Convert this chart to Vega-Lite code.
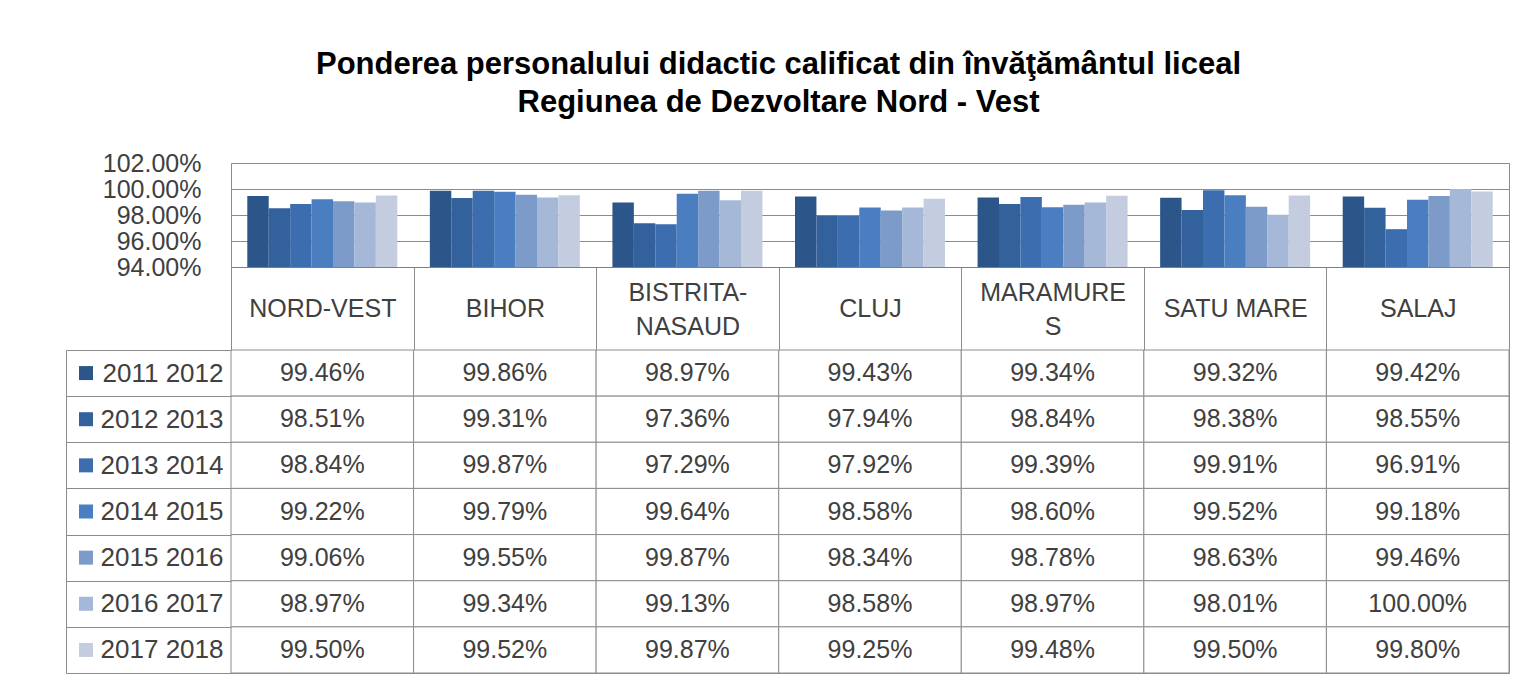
{
  "$schema": "https://vega.github.io/schema/vega-lite/v6.json",
  "padding": {"left": 65, "top": 48, "right": 16, "bottom": 10},
  "background": "white",
  "config": {"font": "Liberation Sans", "view": {"stroke": "#8c8c8c"}},
  "title": {
    "text": ["Ponderea personalului didactic calificat din învăţământul liceal", "Regiunea de Dezvoltare Nord - Vest"],
    "fontSize": 31, "fontWeight": "bold", "color": "#000000", "lineHeight": 38, "anchor": "middle", "offset": 32, "dx": -9
  },
  "datasets": {
    "d": [
      {"region": "NORD-VEST", "year": "2011 2012", "value": 0.9946},
      {"region": "NORD-VEST", "year": "2012 2013", "value": 0.9851},
      {"region": "NORD-VEST", "year": "2013 2014", "value": 0.9884},
      {"region": "NORD-VEST", "year": "2014 2015", "value": 0.9922},
      {"region": "NORD-VEST", "year": "2015 2016", "value": 0.9906},
      {"region": "NORD-VEST", "year": "2016 2017", "value": 0.9897},
      {"region": "NORD-VEST", "year": "2017 2018", "value": 0.995},
      {"region": "BIHOR", "year": "2011 2012", "value": 0.9986},
      {"region": "BIHOR", "year": "2012 2013", "value": 0.9931},
      {"region": "BIHOR", "year": "2013 2014", "value": 0.9987},
      {"region": "BIHOR", "year": "2014 2015", "value": 0.9979},
      {"region": "BIHOR", "year": "2015 2016", "value": 0.9955},
      {"region": "BIHOR", "year": "2016 2017", "value": 0.9934},
      {"region": "BIHOR", "year": "2017 2018", "value": 0.9952},
      {"region": "BISTRITA-NASAUD", "year": "2011 2012", "value": 0.9897},
      {"region": "BISTRITA-NASAUD", "year": "2012 2013", "value": 0.9736},
      {"region": "BISTRITA-NASAUD", "year": "2013 2014", "value": 0.9729},
      {"region": "BISTRITA-NASAUD", "year": "2014 2015", "value": 0.9964},
      {"region": "BISTRITA-NASAUD", "year": "2015 2016", "value": 0.9987},
      {"region": "BISTRITA-NASAUD", "year": "2016 2017", "value": 0.9913},
      {"region": "BISTRITA-NASAUD", "year": "2017 2018", "value": 0.9987},
      {"region": "CLUJ", "year": "2011 2012", "value": 0.9943},
      {"region": "CLUJ", "year": "2012 2013", "value": 0.9794},
      {"region": "CLUJ", "year": "2013 2014", "value": 0.9792},
      {"region": "CLUJ", "year": "2014 2015", "value": 0.9858},
      {"region": "CLUJ", "year": "2015 2016", "value": 0.9834},
      {"region": "CLUJ", "year": "2016 2017", "value": 0.9858},
      {"region": "CLUJ", "year": "2017 2018", "value": 0.9925},
      {"region": "MARAMURES", "year": "2011 2012", "value": 0.9934},
      {"region": "MARAMURES", "year": "2012 2013", "value": 0.9884},
      {"region": "MARAMURES", "year": "2013 2014", "value": 0.9939},
      {"region": "MARAMURES", "year": "2014 2015", "value": 0.986},
      {"region": "MARAMURES", "year": "2015 2016", "value": 0.9878},
      {"region": "MARAMURES", "year": "2016 2017", "value": 0.9897},
      {"region": "MARAMURES", "year": "2017 2018", "value": 0.9948},
      {"region": "SATU MARE", "year": "2011 2012", "value": 0.9932},
      {"region": "SATU MARE", "year": "2012 2013", "value": 0.9838},
      {"region": "SATU MARE", "year": "2013 2014", "value": 0.9991},
      {"region": "SATU MARE", "year": "2014 2015", "value": 0.9952},
      {"region": "SATU MARE", "year": "2015 2016", "value": 0.9863},
      {"region": "SATU MARE", "year": "2016 2017", "value": 0.9801},
      {"region": "SATU MARE", "year": "2017 2018", "value": 0.995},
      {"region": "SALAJ", "year": "2011 2012", "value": 0.9942},
      {"region": "SALAJ", "year": "2012 2013", "value": 0.9855},
      {"region": "SALAJ", "year": "2013 2014", "value": 0.9691},
      {"region": "SALAJ", "year": "2014 2015", "value": 0.9918},
      {"region": "SALAJ", "year": "2015 2016", "value": 0.9946},
      {"region": "SALAJ", "year": "2016 2017", "value": 1.0},
      {"region": "SALAJ", "year": "2017 2018", "value": 0.998}
    ]
  },
  "bounds": "flush",
  "spacing": 83,
  "vconcat": [
    {
      "width": 1278,
      "height": 104,
      "data": {"name": "d"},
      "mark": {"type": "bar"},
      "encoding": {
        "x": {
          "field": "region", "type": "nominal", "sort": null,
          "scale": {"paddingInner": 0, "paddingOuter": 0},
          "axis": {
            "title": null, "orient": "bottom", "domain": true, "domainColor": "#7f7f7f",
            "ticks": true, "tickBand": "extent", "tickSize": 83, "tickColor": "#8c8c8c",
            "labelAngle": 0, "labelFontSize": 25, "labelColor": "#404040",
            "labelPadding": {"condition": {"test": "datum.value == 'BISTRITA-NASAUD' || datum.value == 'MARAMURES'", "value": -58}, "value": -41.5},
            "labelBaseline": "middle", "labelLineHeight": 34, "labelLimit": 300,
            "labelExpr": "datum.value == 'BISTRITA-NASAUD' ? ['BISTRITA-', 'NASAUD'] : datum.value == 'MARAMURES' ? ['MARAMURE', 'S'] : datum.value",
            "minExtent": 83, "maxExtent": 83, "grid": false
          }
        },
        "xOffset": {"field": "year", "type": "nominal", "sort": null, "scale": {"paddingInner": 0, "paddingOuter": 0.76}},
        "y": {
          "field": "value", "type": "quantitative",
          "scale": {"domain": [0.94, 1.02], "zero": false, "nice": false, "clamp": true},
          "axis": {
            "title": null, "values": [0.94, 0.96, 0.98, 1.0, 1.02], "format": ".2%",
            "grid": true, "gridColor": "#8c8c8c", "ticks": false, "tickSize": 0, "domain": false,
            "labelFontSize": 25, "labelColor": "#404040", "labelPadding": 30,
            "labelOverlap": false, "labelFlush": false, "labelBound": false,
            "minExtent": 165, "maxExtent": 165
          }
        },
        "color": {
          "field": "year", "type": "nominal", "sort": null,
          "scale": {"range": ["#2c5589", "#33619c", "#3c6dae", "#4a7ec0", "#7d9bc9", "#a5b8d8", "#c4cce0"]},
          "legend": null
        }
      }
    },
    {
      "width": 1278,
      "height": 323,
      "data": {"name": "d"},
      "encoding": {
        "y": {
          "field": "year", "type": "nominal", "sort": null,
          "scale": {"paddingInner": 0, "paddingOuter": 0},
          "axis": {
            "title": null, "orient": "left", "offset": 165, "tickSize": -165, "tickBand": "extent",
            "tickColor": "#8c8c8c", "domainColor": "#8c8c8c", "labelFontSize": 26, "labelColor": "#404040",
            "labelPadding": 8, "minExtent": 0, "maxExtent": 0, "grid": false
          }
        }
      },
      "layer": [
        {
          "mark": {"type": "rect", "fill": "white", "stroke": "#8c8c8c", "strokeWidth": 1},
          "encoding": {"x": {"field": "region", "type": "nominal", "sort": null, "scale": {"paddingInner": 0, "paddingOuter": 0}, "axis": null}}
        },
        {
          "mark": {"type": "text", "fontSize": 25, "color": "#404040"},
          "encoding": {
            "x": {"field": "region", "type": "nominal", "sort": null, "axis": null},
            "text": {"field": "value", "type": "quantitative", "format": ".2%"}
          }
        },
        {
          "transform": [{"filter": "datum.region == 'NORD-VEST'"}],
          "mark": {"type": "point", "shape": "square", "filled": true, "opacity": 1, "size": 196, "xOffset": -784},
          "encoding": {
            "color": {"field": "year", "type": "nominal", "sort": null, "legend": null}
          }
        }
      ]
    }
  ]
}
